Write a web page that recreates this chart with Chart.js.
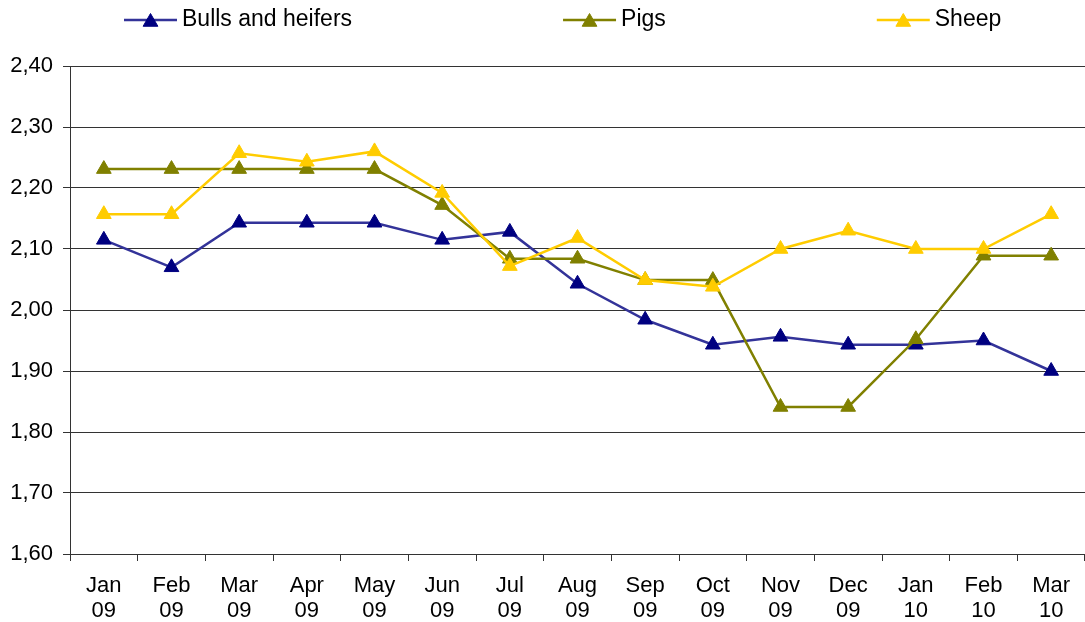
<!DOCTYPE html>
<html lang="en">
<head>
    <meta charset="UTF-8">
    <title>Prices: bulls and heifers, pigs, sheep</title>
    <style>
        html, body {
            margin: 0;
            padding: 0;
            overflow: hidden;
            background: #ffffff;
        }
        canvas {
            display: block;
        }
    </style>
</head>
<body>

<canvas id="priceChart" width="1085" height="622"></canvas>

<script src="https://cdn.jsdelivr.net/npm/chart.js"></script>

<script>
    const months = ['Jan', 'Feb', 'Mar', 'Apr', 'May', 'Jun', 'Jul', 'Aug', 'Sep', 'Oct', 'Nov', 'Dec', 'Jan', 'Feb', 'Mar'];
    const years = ['09', '09', '09', '09', '09', '09', '09', '09', '09', '09', '09', '09', '10', '10', '10'];

    const bulls = [2.115, 2.07, 2.143, 2.143, 2.143, 2.115, 2.128, 2.043, 1.984, 1.943, 1.956, 1.943, 1.943, 1.95, 1.90];
    const pigs = [2.231, 2.231, 2.231, 2.231, 2.231, 2.172, 2.084, 2.084, 2.049, 2.049, 1.841, 1.841, 1.952, 2.089, 2.089];
    const sheep = [2.157, 2.157, 2.257, 2.243, 2.26, 2.192, 2.072, 2.118, 2.049, 2.038, 2.10, 2.13, 2.10, 2.10, 2.157];

    const yTickLabels = ['1,60', '1,70', '1,80', '1,90', '2,00', '2,10', '2,20', '2,30', '2,40'];

    const FONT = 'Liberation Sans, Arial, sans-serif';
    const labels = months.map((m, i) => [m, years[i]]);

    // legend drawn by hand: line + triangle + text, wide gaps like the original
    const lineLegend = {
        id: 'lineLegend',
        afterDraw(chart) {
            const ctx = chart.ctx;
            const y = 20;
            const boxW = 53;
            const gap = 213;
            const r = 8.5;
            let x = 124;
            ctx.save();
            ctx.font = '23px ' + FONT;
            ctx.textBaseline = 'middle';
            chart.data.datasets.forEach(ds => {
                ctx.strokeStyle = ds.borderColor;
                ctx.lineWidth = 2.5;
                ctx.beginPath();
                ctx.moveTo(x, y);
                ctx.lineTo(x + boxW, y);
                ctx.stroke();

                const cx = x + boxW / 2, cy = y + 2;
                ctx.fillStyle = ds.pointBackgroundColor;
                ctx.strokeStyle = ds.pointBorderColor;
                ctx.lineWidth = 1;
                ctx.beginPath();
                ctx.moveTo(cx, cy - r);
                ctx.lineTo(cx + r * 0.866, cy + r / 2);
                ctx.lineTo(cx - r * 0.866, cy + r / 2);
                ctx.closePath();
                ctx.fill();
                ctx.stroke();

                ctx.fillStyle = '#000';
                const tx = x + boxW + 5;
                ctx.fillText(ds.label, tx, y);
                x = tx + ctx.measureText(ds.label).width + gap - 2;
            });
            ctx.restore();
        }
    };

    function series(label, data, lineColor, markColor, order) {
        return {
            label: label,
            data: data,
            borderColor: lineColor,
            borderWidth: 2.5,
            pointStyle: 'triangle',
            pointRadius: 8.5,
            pointHoverRadius: 8.5,
            pointBackgroundColor: markColor,
            pointBorderColor: markColor,
            pointBorderWidth: 1,
            tension: 0,
            fill: false,
            order: order
        };
    }

    new Chart(document.getElementById('priceChart'), {
        type: 'line',
        data: {
            labels: labels,
            datasets: [
                series('Bulls and heifers', bulls, '#333399', '#000080', 3),
                series('Pigs', pigs, '#808000', '#808000', 2),
                series('Sheep', sheep, '#FFCC00', '#FFCC00', 1)
            ]
        },
        options: {
            responsive: false,
            devicePixelRatio: 1,
            animation: false,
            layout: {
                autoPadding: false,   // markers fit inside the category offset anyway
                // the original plot runs a little past the right edge of the picture
                padding: { top: 66, right: -7, bottom: 0, left: 0 }
            },
            plugins: {
                legend: { display: false },
                tooltip: { enabled: false }
            },
            scales: {
                x: {
                    offset: true,
                    afterFit(scale) {
                        scale.height = 68;
                    },
                    grid: {
                        offset: true,
                        drawOnChartArea: false,
                        drawTicks: true,
                        tickLength: 7,
                        color: '#333333'
                    },
                    border: { color: '#333333' },
                    ticks: {
                        color: '#000',
                        padding: 12,
                        maxRotation: 0,
                        autoSkip: false,
                        font: { family: FONT, size: 22, lineHeight: 1.15 }
                    }
                },
                y: {
                    min: 1.6,
                    max: 2.4,
                    afterFit(scale) { scale.width = 70; },
                    grid: {
                        color: '#333333',
                        tickLength: 7
                    },
                    border: { color: '#333333' },
                    ticks: {
                        stepSize: 0.1,
                        color: '#000',
                        padding: 10,
                        font: { family: FONT, size: 22 },
                        callback: (v, i) => yTickLabels[i]
                    }
                }
            }
        },
        plugins: [lineLegend]
    });
</script>

</body>
</html>
